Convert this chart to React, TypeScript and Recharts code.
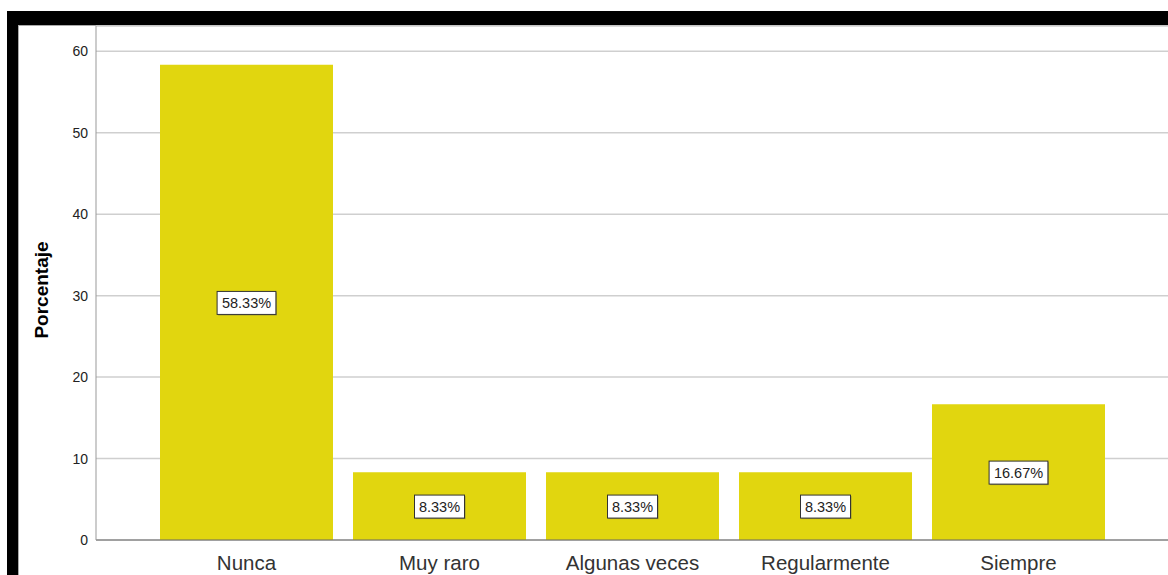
import { BarChart, Bar, XAxis, YAxis, CartesianGrid, LabelList } from 'recharts'

const categories = ['Nunca', 'Muy raro', 'Algunas veces', 'Regularmente', 'Siempre']
const percentages = [58.33, 8.33, 8.33, 8.33, 16.67]
const yTicks = [0, 10, 20, 30, 40, 50, 60]

const data = categories.map((name, i) => ({ name, value: percentages[i] }))

const font = '"Liberation Sans", Arial, sans-serif'

function BoxLabel(props: any) {
  const { x, y, width, height, value } = props
  const cx = x + width / 2
  const cy = y + height / 2
  const text = `${Number(value).toFixed(2)}%`
  const w = text.length * 8.8 + 6
  return (
    <g>
      <rect x={cx - w / 2 + 1} y={cy - 11 + 1} width={w} height={23} fill="#555" opacity={0.5} />
      <rect x={cx - w / 2} y={cy - 11} width={w} height={23} fill="#fff" stroke="#333" strokeWidth={1} />
      <text x={cx} y={cy + 5.5} textAnchor="middle" fontSize={14.5} fontFamily={font} fill="#222">
        {text}
      </text>
    </g>
  )
}

export default function App() {
  return (
    <div style={{ position: 'absolute', left: 0, top: 0, width: 1168, height: 575, overflow: 'hidden', background: '#fff' }}>
      <div style={{ position: 'absolute', left: 7, top: 11, width: 1161, height: 14, background: '#000' }} />
      <div style={{ position: 'absolute', left: 7, top: 11, width: 11, height: 564, background: '#000' }} />
      <div style={{ position: 'absolute', left: 18, top: 25, width: 1150, height: 1, background: '#aaa' }} />
      <div style={{ position: 'absolute', left: 18, top: 25, width: 1, height: 550, background: '#aaa' }} />
      <div style={{ position: 'absolute', left: 0, top: 0 }}>
        <BarChart
          width={1169}
          height={575}
          data={data}
          margin={{ top: 26, right: 0, bottom: 5, left: 0 }}
          barCategoryGap={10}
        >
          <CartesianGrid vertical={false} stroke="#cfcfcf" strokeWidth={1.5} />
          <XAxis
            dataKey="name"
            height={30}
            padding={{ left: 54, right: 54 }}
            tickLine={false}
            tickSize={6}
            tickMargin={9}
            axisLine={{ stroke: '#666' }}
            tick={{ fontSize: 20.5, fill: '#333', fontFamily: font }}
            interval={0}
          />
          <YAxis
            width={96}
            domain={[0, 63.1]}
            ticks={yTicks}
            tickLine={false}
            axisLine={{ stroke: '#999' }}
            tick={{ fontSize: 14, fill: '#222', fontFamily: font }}
            label={() => (
              <text
                x={48}
                y={290}
                transform="rotate(-90 48 290)"
                textAnchor="middle"
                fontSize={19}
                fontWeight="bold"
                fontFamily={font}
                fill="#000"
              >
                Porcentaje
              </text>
            )}
          />
          <Bar dataKey="value" fill="#e1d60f" isAnimationActive={false}>
            <LabelList dataKey="value" content={BoxLabel} />
          </Bar>
        </BarChart>
      </div>
    </div>
  )
}
